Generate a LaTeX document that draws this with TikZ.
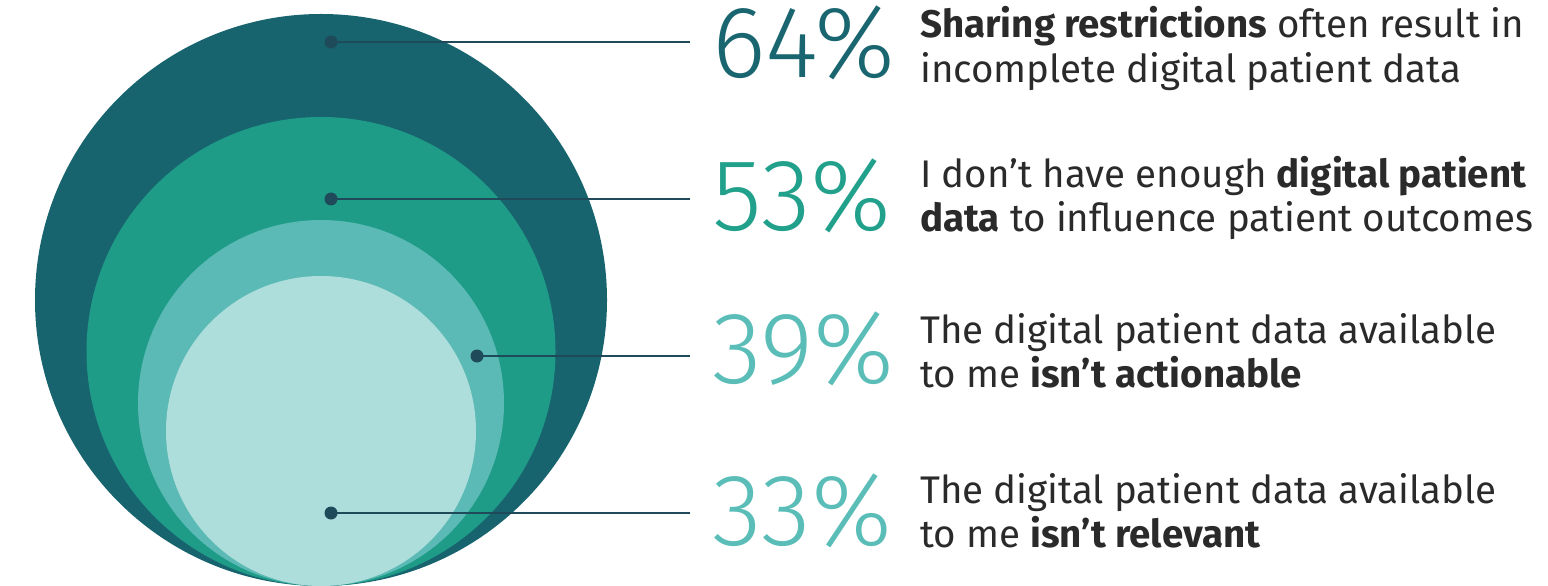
\documentclass[tikz,border=0pt]{standalone}
\usepackage{fontspec}
\setmainfont{Fira Sans}
\newfontfamily\pctfont{Fira Sans Light}
\definecolor{cdark}{HTML}{17646E}
\definecolor{cgreen}{HTML}{1F9C88}
\definecolor{cmid}{HTML}{5BBAB5}
\definecolor{clight}{HTML}{ADDEDB}
\definecolor{cdot}{HTML}{1F4A5A}
\definecolor{ctext}{HTML}{2A2A2A}
\definecolor{pdark}{HTML}{1A6670}
\definecolor{pgreen}{HTML}{21A08B}
\definecolor{pmid}{HTML}{5BBDB7}
\begin{document}
\begin{tikzpicture}[x=1bp,y=-1bp,
  dot/.style={circle,fill=cdot,inner sep=0pt,minimum size=13bp},
  conn/.style={draw=cdot,line width=2.7bp},
  pct/.style={anchor=base west,inner sep=0pt,font=\pctfont\fontsize{102bp}{102bp}\selectfont},
  txt/.style={anchor=base west,inner sep=0pt,text=ctext,font=\fontsize{38.5bp}{44bp}\selectfont}]
\useasboundingbox (0,0) rectangle (1548,586);
% nested circles
\fill[cdark]  (321,300)   circle[radius=286bp];
\fill[cgreen] (321,351.5) circle[radius=234.5bp];
\fill[cmid]   (321,403)   circle[radius=183bp];
\fill[clight] (321,431)   circle[radius=155bp];
% dots and connectors
\node[dot] (d1) at (331,42) {};
\node[dot] (d2) at (331,199) {};
\node[dot] (d3) at (477,356) {};
\node[dot] (d4) at (331,513) {};
\coordinate (e1) at (690,42);
\coordinate (e2) at (690,199);
\coordinate (e3) at (690,356);
\coordinate (e4) at (690,513);
\draw[conn] (d1.center) -- (e1);
\draw[conn] (d2.center) -- (e2);
\draw[conn] (d3.center) -- (e3);
\draw[conn] (d4.center) -- (e4);
% percentages
\node[pct,text=pdark]  (p1) at (712,78)  {64\%};
\node[pct,text=pgreen] (p2) at (712,231) {53\%};
\node[pct,text=pmid]   (p3) at (712,383) {39\%};
\node[pct,text=pmid]   (p4) at (712,545) {33\%};
% statements
\node[txt] (t1a) at (920,38)  {\textbf{Sharing restrictions} often result in};
\node[txt] (t1b) at (920,83)  {incomplete digital patient data};
\node[txt] (t2a) at (920,188) {I don’t have enough \textbf{digital patient}};
\node[txt] (t2b) at (920,232) {\textbf{data} to influence patient outcomes};
\node[txt] (t3a) at (920,343) {The digital patient data available};
\node[txt] (t3b) at (920,387) {to me \textbf{isn’t actionable}};
\node[txt] (t4a) at (920,503) {The digital patient data available};
\node[txt] (t4b) at (920,547) {to me \textbf{isn’t relevant}};
\end{tikzpicture}
\end{document}
